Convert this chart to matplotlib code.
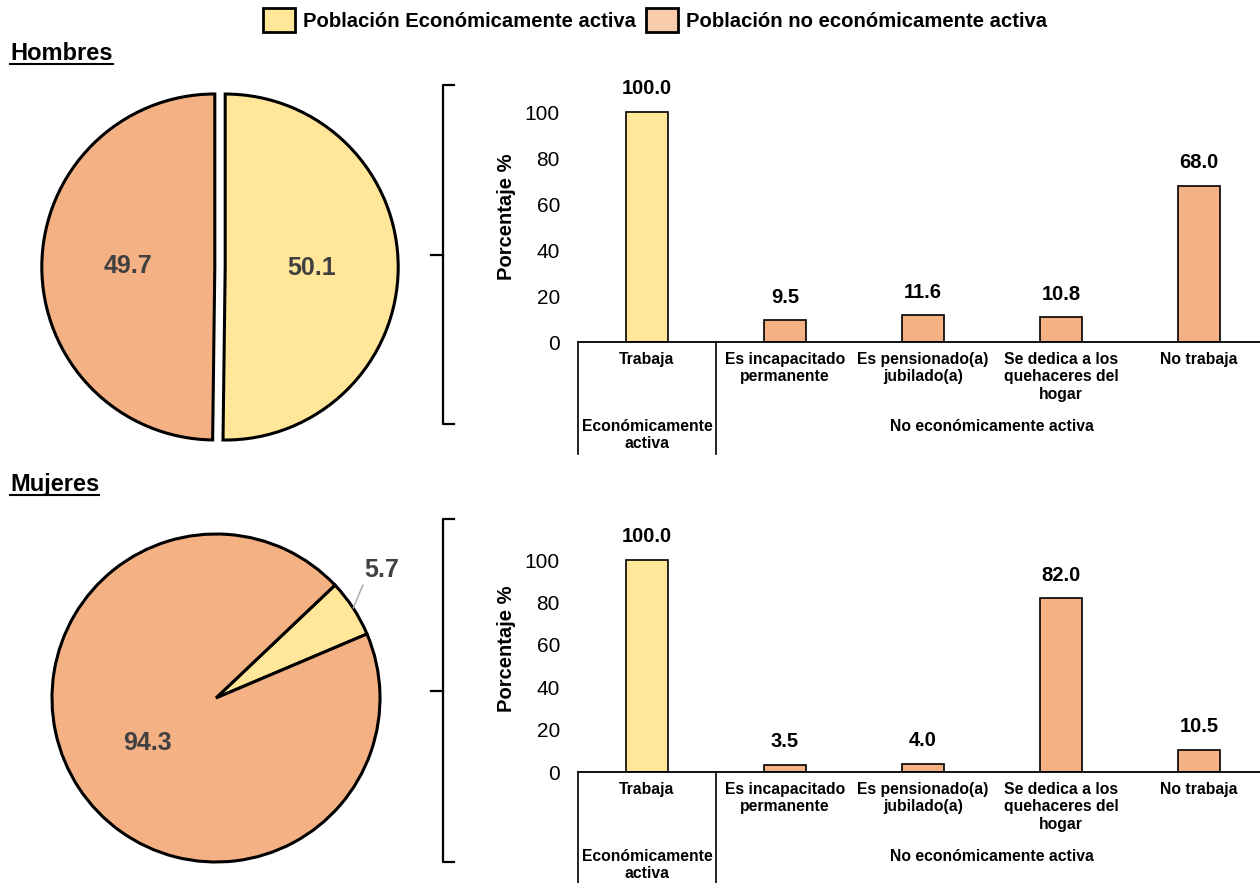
import numpy as np
import matplotlib.pyplot as plt
import matplotlib.transforms as mtransforms
from matplotlib.patches import Patch
from matplotlib.lines import Line2D

plt.rcParams['font.family'] = ['Liberation Sans', 'DejaVu Sans']

# datos
series = ["Población Económicamente activa", "Población no económicamente activa"]
hombres_pie = [50.1, 49.7]
mujeres_pie = [5.7, 94.3]
categorias = ["Trabaja", "Es incapacitado\npermanente", "Es pensionado(a)\njubilado(a)",
              "Se dedica a los\nquehaceres del\nhogar", "No trabaja"]
grupos = ["Económicamente\nactiva", "No económicamente activa"]
hombres_bar = [100.0, 9.5, 11.6, 10.8, 68.0]
mujeres_bar = [100.0, 3.5, 4.0, 82.0, 10.5]

AMARILLO = "#FFE699"
SALMON = "#F4B183"
SALMON_LEG = "#F8CBAD"
GRIS = "#404040"

W, H = 1260, 883
fig = plt.figure(figsize=(W / 100, H / 100), dpi=100)


def fx(x):
    return x / W


def fy(y):
    return 1 - y / H


def draw_pie(cx, cy, r, vals, start, explode):
    half = 200
    L = half / r
    ax = fig.add_axes([fx(cx - half), fy(cy + half), 2 * half / W, 2 * half / H])
    total = sum(vals)
    wedges, texts, autotexts = ax.pie(
        vals, colors=[AMARILLO, SALMON], startangle=start, counterclock=False,
        explode=explode, autopct=lambda p: f"{p * total / 100:.1f}", pctdistance=0.5,
        wedgeprops=dict(edgecolor="black", linewidth=2.2),
        textprops=dict(color=GRIS, fontsize=18, fontweight="bold"))
    ax.set_xlim(-L, L)
    ax.set_ylim(-L, L)
    ax.axis("off")
    return ax, wedges, autotexts


def draw_bars(bottom_px, top_px, vals, ylabel_y):
    left, right = 578, 1268
    hpx = bottom_px - top_px
    ax = fig.add_axes([fx(left), fy(bottom_px), (right - left) / W, hpx / H])
    x = np.arange(len(categorias))
    ax.bar(x, vals, width=0.31, color=[AMARILLO] + [SALMON] * 4,
           edgecolor="black", linewidth=1.2)
    ax.set_xlim(-0.5, 4.5)
    ax.set_ylim(0, 120)
    ax.set_yticks(range(0, 101, 20))
    ax.tick_params(axis="y", length=0, pad=13, labelsize=15)
    ax.set_xticks(x)
    ax.set_xticklabels(categorias, fontsize=11.3, fontweight="bold")
    ax.tick_params(axis="x", length=0, pad=7)
    for s in ["top", "right", "left"]:
        ax.spines[s].set_visible(False)
    ax.spines["bottom"].set_linewidth(1.3)
    for xi, v in zip(x, vals):
        ax.annotate(f"{v:.1f}", (xi, v), xytext=(0, 23), textcoords="offset pixels",
                    ha="center", va="center", fontsize=14.5, fontweight="bold")
    trans = ax.get_xaxis_transform()
    for xs in [-0.5, 0.5]:
        ax.plot([xs, xs], [0, -112 / hpx], transform=trans, color="black",
                lw=1.2, clip_on=False)
    ax.annotate(grupos[0], (0, 0), xycoords=trans, xytext=(0, -77),
                textcoords="offset pixels", ha="center", va="top",
                fontsize=11.3, fontweight="bold")
    ax.annotate(grupos[1], (2.5, 0), xycoords=trans, xytext=(0, -77),
                textcoords="offset pixels", ha="center", va="top",
                fontsize=11.3, fontweight="bold")
    fig.text(fx(507), fy(ylabel_y), "Porcentaje %", rotation=90, ha="center",
             va="center", fontsize=14.5, fontweight="bold")
    return ax


def brace(top, mid, bot, x=443):
    fig.add_artist(Line2D([fx(x + 11), fx(x), fx(x), fx(x + 11)],
                          [fy(top), fy(top), fy(bot), fy(bot)],
                          transform=fig.transFigure, color="black", lw=1.6))
    fig.add_artist(Line2D([fx(x), fx(x - 12)], [fy(mid), fy(mid)],
                          transform=fig.transFigure, color="black", lw=1.6))


# Hombres
draw_pie(220, 267, 173, hombres_pie, 90, [0.03, 0.03])
draw_bars(342, 66, hombres_bar, 217)
brace(85, 255, 424)

# Mujeres
ax_m, wedges_m, auto_m = draw_pie(216, 698, 164, mujeres_pie, 43.5, [0, 0])
auto_m[0].set_visible(False)
w = wedges_m[0]
mid = np.radians((w.theta1 + w.theta2) / 2)
ax_m.annotate(f"{mujeres_pie[0]:.1f}", (np.cos(mid), np.sin(mid)),
              xytext=(11, 26), textcoords="offset pixels", ha="left", va="bottom",
              color=GRIS, fontsize=18, fontweight="bold",
              arrowprops=dict(arrowstyle="-", color="#A6A6A6", lw=1,
                              relpos=(0, 0), shrinkA=0, shrinkB=0))
draw_bars(772, 517.6, mujeres_bar, 649)
brace(519, 691, 862)

# leyenda
handles = [Patch(facecolor=AMARILLO, edgecolor="black", linewidth=2, label=series[0]),
           Patch(facecolor=SALMON_LEG, edgecolor="black", linewidth=2, label=series[1])]
fig.legend(handles=handles, loc="center", bbox_to_anchor=(fx(655), fy(20)), ncol=2,
           frameon=False, prop=dict(weight="bold", size=14.6), handlelength=1.6,
           handleheight=1.4, handletextpad=0.4, columnspacing=0.45,
           borderpad=0, borderaxespad=0)

# titulos subrayados
titles = []
for txt, base in [("Hombres", 60), ("Mujeres", 491)]:
    titles.append((fig.text(fx(10), fy(base), txt, ha="left", va="baseline",
                            fontsize=17, fontweight="bold"), base))
fig.canvas.draw()
for t, base in titles:
    bb = t.get_window_extent()
    yline = H - base - 4
    fig.add_artist(Line2D([bb.x0, bb.x1], [yline, yline],
                          transform=mtransforms.IdentityTransform(),
                          color="black", lw=1.5))

fig.savefig("out.png", dpi=100)
